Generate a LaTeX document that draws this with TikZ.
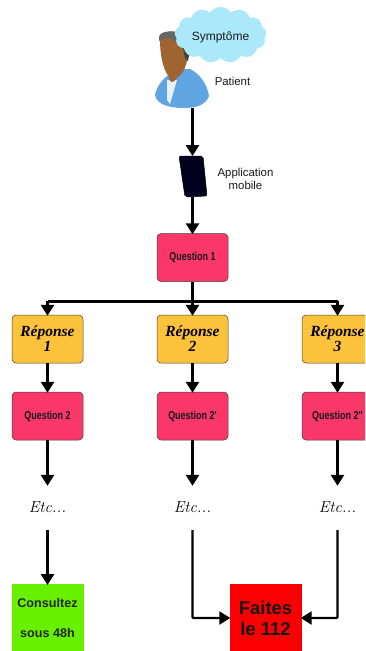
\documentclass[tikz,border=0pt]{standalone}
\usepackage{fontspec}
\setmainfont{Liberation Sans}
\newfontfamily\cond[FakeStretch=0.78]{Liberation Sans}
\newfontfamily\hand{Liberation Serif}
\newfontfamily\etcfont{Latin Modern Roman}
\usetikzlibrary{arrows.meta,shapes.symbols}
\definecolor{qpink}{RGB}{250,55,105}
\definecolor{rorange}{RGB}{253,194,60}
\definecolor{cgreen}{RGB}{105,240,0}
\definecolor{fred}{RGB}{250,0,0}
\definecolor{cloudblue}{RGB}{170,232,250}
\definecolor{skin}{RGB}{160,100,48}
\definecolor{shirt}{RGB}{95,165,225}
\tikzset{
  questionbox/.style={draw=black!75,line width=.5pt,rounded corners=4pt,fill=qpink,minimum width=71pt,minimum height=48pt,inner sep=0pt,font=\cond\bfseries\fontsize{11.5}{13}\selectfont,text=black!90},
  reponsebox/.style={draw=black!75,line width=.5pt,rounded corners=4pt,fill=rorange,minimum width=71pt,minimum height=48pt,inner sep=0pt,align=center,font=\hand\bfseries\itshape\fontsize{15.5}{15}\selectfont},
  etclabel/.style={inner sep=0pt,font=\etcfont\itshape\fontsize{16}{18}\selectfont,minimum height=14pt},
  smalltext/.style={inner sep=0pt,align=center,font=\fontsize{11.4}{13.5}\selectfont,text=black!90},
  flow/.style={line width=3pt,-{Triangle[length=11pt,width=13pt]},shorten >=-1pt},
  thinflow/.style={line width=2.3pt,-{Triangle[length=11pt,width=13pt]},rounded corners=1pt,shorten >=-1pt},
  bar/.style={line width=3pt}
}
\begin{document}
\begin{tikzpicture}[x=1pt,y=-1pt]
\useasboundingbox (0,0) rectangle (365,651);
\clip (0,0) rectangle (365,651);
\fill[white] (0,0) rectangle (365,651);

% patient
\fill[shirt] (155,95) .. controls (157,84) and (166,75) .. (178,69)
  -- (190,69) .. controls (200,74) and (207,84) .. (209,96)
  .. controls (206,105) and (196,108) .. (184,108)
  .. controls (170,108) and (157,105) .. (155,95) -- cycle;
\fill[white!85!shirt] (167,80) -- (177,80) -- (170,104) -- (167,100) -- cycle;
\fill[skin] (160,40) .. controls (160,28) and (187,28) .. (188,44)
  .. controls (189,58) and (186,72) .. (177,78) .. controls (173,84) and (169,83) .. (169,77)
  .. controls (162,68) and (160,52) .. (160,40) -- cycle;
\fill[black!60] (159,37) .. controls (160,31) and (172,30) .. (180,33) -- (177,42) .. controls (170,37) and (164,37) .. (159,41) -- cycle;
\fill[black!75] (183,48) -- (190,50) -- (188,61) -- (185,58) -- cycle;

% cloud
\node[cloud,cloud puffs=13,cloud puff arc=110,aspect=1.75,fill=cloudblue,draw=none,minimum width=92pt,minimum height=56pt,inner sep=0pt] (cloudshape) at (220.5,35) {};
\node[smalltext,font=\fontsize{12}{14}\selectfont] (symptome) at (220.5,37) {Symptôme};
\node[smalltext] (patientlabel) at (232.5,81) {Patient};
\coordinate (patientbase) at (192.5,108);

% phone
\draw[fill=black!88!blue,draw=black,line width=.5pt,rounded corners=2pt] (179,156) -- (203,156) -- (207,196) -- (185,197) -- cycle;
\coordinate (phonetop) at (192.5,155);
\coordinate (phonebot) at (192.5,197);
\node[smalltext] (applabel) at (245.5,179) {Application\\mobile};

% boxes
\node[questionbox] (q1) at (192.5,257.5) {Question 1};
\foreach \n/\x/\t in {r1/47.5/1,r2/192.5/2,r3/337.5/3}
  \node[reponsebox] (\n) at (\x,339) {Réponse\\\t};
\node[questionbox] (q2a) at (47.5,416) {Question 2};
\node[questionbox] (q2b) at (192.5,416) {Question 2'};
\node[questionbox] (q2c) at (337.5,416) {Question 2''};
\node[etclabel] (e1) at (47.5,507) {Etc...};
\node[etclabel] (e2) at (192.5,507) {Etc...};
\node[etclabel] (e3) at (337.5,507) {Etc...};
\node[fill=cgreen,minimum width=72pt,minimum height=68pt,inner sep=0pt,anchor=north,align=center,font=\bfseries\fontsize{12.6}{30.5}\selectfont,text=black!85] (cons) at (47.5,584) {Consultez\\sous 48h};
\node[fill=fred,minimum width=72pt,minimum height=68pt,inner sep=0pt,anchor=north,align=center,font=\bfseries\fontsize{18.5}{21.5}\selectfont,text=black!90] (faites) at (265.5,584) {Faites\\le 112};

% connectors
\draw[flow] (patientbase) -- (phonetop);
\draw[flow] (phonebot) -- (q1.north);
\coordinate (split) at (192.5,301);
\draw[bar] (q1.south) -- (split);
\draw[bar] (47.5,301) -- (337.5,301);
\foreach \n in {r1,r2,r3} \draw[flow] (\n.north |- split) -- (\n.north);
\draw[flow] (r1) -- (q2a);
\draw[flow] (r2) -- (q2b);
\draw[flow] (r3) -- (q2c);
\foreach \a/\b in {q2a/e1,q2b/e2,q2c/e3}
  \draw[flow] (\a.south) -- ([yshift=15pt]\b.north);
\draw[flow] ([yshift=-16pt]e1.south) -- (cons.north);
\draw[thinflow] ([yshift=-16pt]e2.south) |- (faites.west |- 0,618);
\draw[thinflow] ([yshift=-16pt]e3.south) |- (faites.east |- 0,618);
\end{tikzpicture}
\end{document}
